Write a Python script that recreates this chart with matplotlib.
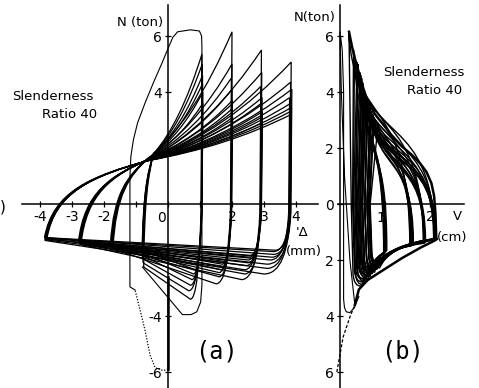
import matplotlib.pyplot as plt
from matplotlib.path import Path
from matplotlib.patches import PathPatch

plt.rcParams['font.family'] = ['DejaVu Sans']

# ---------------- (a) axial force N (ton) vs axial deformation (mm) ----------------
# one entry per cycle, in four amplitude groups (about 1, 2, 3 and 4 mm)
a_group = [0] * 6 + [1] * 7 + [2] * 8 + [3] * 8
a_dmax = [1.06, 1.07, 1.08, 1.08, 1.09, 1.09,
          2.00, 2.00, 1.98, 2.00, 2.01, 2.00, 2.02,
          2.92, 2.93, 2.90, 2.94, 2.92, 2.95, 2.93, 2.94,
          3.85, 3.83, 3.87, 3.80, 3.84, 3.86, 3.82, 3.85]
a_dmin = [-0.76, -0.78, -0.80, -0.79, -0.81, -0.80,
          -1.72, -1.75, -1.78, -1.74, -1.76, -1.80, -1.77,
          -2.72, -2.75, -2.78, -2.74, -2.76, -2.80, -2.77, -2.73,
          -3.85, -3.82, -3.80, -3.83, -3.78, -3.86, -3.81, -3.84]
a_npeak = [5.35, 5.0, 4.6, 4.3, 4.0, 3.6,
           6.15, 5.0, 4.5, 4.1, 3.7, 3.4, 3.1,
           5.5, 4.7, 4.2, 3.8, 3.6, 3.3, 3.1, 2.9,
           5.07, 4.35, 4.1, 3.8, 3.6, 3.45, 3.3, 3.2]
a_ncomp = [-3.4, -3.1, -2.9, -2.7, -2.5, -2.35,
           -2.85, -2.6, -2.45, -2.35, -2.25, -2.15, -2.05,
           -2.7, -2.5, -2.35, -2.2, -2.1, -2.0, -1.9, -1.85,
           -2.5, -2.3, -2.15, -2.0, -1.9, -1.8, -1.7, -1.65]
a_dcomp = [0.7, 0.65, 0.7, 0.75, 0.8, 0.85,
           1.5, 1.6, 1.6, 1.65, 1.7, 1.7, 1.75,
           2.3, 2.4, 2.4, 2.45, 2.5, 2.5, 2.55, 2.55,
           3.0, 3.1, 3.1, 3.2, 3.25, 3.3, 3.3, 3.35]
a_nleft = [-2.25, -2.1, -1.95, -1.85, -1.75, -1.65,
           -1.6, -1.55, -1.55, -1.5, -1.5, -1.45, -1.45,
           -1.45, -1.42, -1.4, -1.4, -1.38, -1.36, -1.35, -1.33,
           -1.3, -1.28, -1.25, -1.25, -1.22, -1.2, -1.22, -1.2]
# point where the reloading branches of each group pinch together
pinch_x = [-0.45, -0.6, -0.6, -0.62]
pinch_y = [1.8, 1.65, 1.6, 1.55]

# first cycle: initial compression, buckling (dotted), then tension yield
a0_load_x = [0.0, 0.0]
a0_load_y = [-2.6, -5.9]
a0_dot_x = [0.0, -0.15, -0.4, -0.56, -0.72, -0.87, -1.03]
a0_dot_y = [-5.9, -5.95, -5.85, -5.4, -4.5, -3.8, -3.07]
a0_x = [-1.03, -1.19, -1.19, -1.16, -1.08, -0.95, -0.72, -0.45, -0.2, 0.0, 0.15, 0.3,
        0.7, 0.98, 1.05, 1.06, 1.06, 1.02, 0.9, 0.72, 0.45, -0.8]
a0_y = [-3.07, -2.96, 1.0, 1.7, 2.3, 2.9, 3.6, 4.35, 5.0, 5.55, 5.95, 6.15,
        6.22, 6.18, 6.0, 5.6, -2.9, -3.5, -3.85, -3.95, -3.95, -2.25]

# ---------------- (b) axial force N (ton) vs lateral deflection v (cm) ----------------
b_vtop = [0.32, 0.40, 0.46, 0.51, 0.55, 0.62,
          0.20, 0.40, 0.48, 0.54, 0.60, 0.67, 0.76,
          0.30, 0.44, 0.52, 0.58, 0.62, 0.70, 0.76, 0.85,
          0.38, 0.50, 0.54, 0.58, 0.62, 0.66, 0.70, 0.73]
b_vdown = [0.30, 0.35, 0.40, 0.45, 0.50, 0.55,
           0.25, 0.33, 0.42, 0.48, 0.55, 0.60, 0.66,
           0.28, 0.36, 0.44, 0.50, 0.55, 0.60, 0.64, 0.67,
           0.30, 0.38, 0.45, 0.50, 0.55, 0.60, 0.63, 0.66]
b_ncomp = [-2.9, -2.8, -2.7, -2.6, -2.5, -2.45,
           -2.95, -2.7, -2.6, -2.5, -2.4, -2.35, -2.3,
           -2.8, -2.6, -2.5, -2.4, -2.35, -2.3, -2.25, -2.2,
           -2.7, -2.55, -2.45, -2.4, -2.3, -2.25, -2.2, -2.2]
b_vright = [0.98, 1.00, 0.97, 1.02, 1.00, 1.04,
            1.55, 1.58, 1.60, 1.57, 1.62, 1.60, 1.63,
            1.85, 1.87, 1.88, 1.86, 1.90, 1.88, 1.89, 1.87,
            2.10, 2.12, 2.08, 2.13, 2.10, 2.14, 2.11, 2.12]
b_nright = [-1.8, -1.75, -1.75, -1.7, -1.7, -1.65,
            -1.5, -1.5, -1.47, -1.45, -1.45, -1.42, -1.4,
            -1.4, -1.4, -1.38, -1.36, -1.36, -1.35, -1.34, -1.33,
            -1.3, -1.28, -1.27, -1.26, -1.25, -1.25, -1.24, -1.24]

# outer boundaries of the loops, initial buckling path (dashed) and first cycle
b_up_v = [0.2, 0.27, 0.33, 0.4, 0.5, 0.62, 0.78, 0.93, 1.15, 1.38, 1.6, 1.78, 1.92,
          2.03, 2.09, 2.12, 2.14]
b_up_n = [6.15, 5.6, 5.2, 4.8, 4.2, 3.65, 3.2, 2.9, 2.45, 2.05, 1.75, 1.45, 1.15,
          0.75, 0.3, -0.3, -1.25]
b_lo_v = [0.33, 0.42, 0.62, 0.96, 1.38, 1.8, 2.11, 2.15]
b_lo_n = [-3.6, -3.05, -2.71, -2.36, -1.93, -1.55, -1.3, -1.25]
b_dash_v = [-0.07, 0.07, 0.22, 0.33]
b_dash_n = [-6.0, -4.75, -4.04, -3.6]
b0_v = [0.33, 0.22, 0.1, 0.03, 0.0, 0.05, 0.08, 0.08, 0.1, 0.14, 0.22, 0.32, 0.42]
b0_n = [-3.6, -2.0, 1.0, 4.0, 6.15, 5.5, 4.0, -3.4, -3.7, -3.85, -3.88, -3.7, -3.3]

M, L, C3, C4 = Path.MOVETO, Path.LINETO, Path.CURVE3, Path.CURVE4


def loop_a(i):
    g = a_group[i]
    px, py = pinch_x[g], pinch_y[g]
    dmin, dmax, npk = a_dmin[i], a_dmax[i], a_npeak[i]
    nc, dc, nl = a_ncomp[i], a_dcomp[i], a_nleft[i]
    w = px - dmin
    verts = [(dmin, nl),
             (dmin + 0.08 * w, nl + 0.6 * (py - nl)),
             (dmin + 0.45 * w, py - 0.2 * (py - nl)), (px, py),
             (px + 0.55 * (dmax - px), py + 0.3 * (npk - py)), (dmax, npk),
             (dmax - 0.03, -0.3),
             (dmax - 0.1, nc), (dc, nc),
             (dmin, nl)]
    codes = [M, C4, C4, C4, C3, C3, L, C3, C3, L]
    return Path(verts, codes)


def loop_b(i):
    vt, nt = b_vtop[i], a_npeak[i]
    vd, nc = b_vdown[i], b_ncomp[i]
    vr, nr = b_vright[i], b_nright[i]
    vc = vd + 0.22
    verts = [(vt, nt), (vd, 0.0),
             (vd + 0.04, nc + 0.45),
             (vd + 0.06, nc), (vc, nc + 0.02),
             (vc + 0.3 * (vr - vc), nr - 0.15), (vr, nr),
             (vr, nr + 0.72 * (nt - nr)),
             (vt + 0.06 * (vr - vt), nt - 0.45 * (nt - nr)), (vt, nt)]
    codes = [M, L, L, C3, C3, C3, C3, C4, C4, C4]
    return Path(verts, codes)


fig = plt.figure(figsize=(4.79, 3.88), dpi=100)
ylo, yhi = (204 - 388) / 28, 204 / 28

axa = fig.add_axes([0, 0, 320 / 479, 1])
axa.set_xlim(-5.25, 4.75)
axa.set_ylim(ylo, yhi)
axb = fig.add_axes([325 / 479, 0, 154 / 479, 1])
axb.set_xlim(-15 / 45, 139 / 45)
axb.set_ylim(ylo, yhi)

for ax in (axa, axb):
    ax.patch.set_alpha(0)
    ax.spines[['top', 'right']].set_visible(False)
    ax.spines['left'].set_position(('data', 0))
    ax.spines['bottom'].set_position(('data', 0))
    ax.spines['left'].set_bounds(-6.6, 7.1)
    ax.spines[['left', 'bottom']].set_linewidth(1.1)
    ax.tick_params(direction='inout', length=5, width=0.9, labelsize=10, pad=2)

axa.spines['bottom'].set_bounds(-4.55, 4.7)
axa.set_xticks([-4, -3, -2, -1, 0, 1, 2, 3, 4],
               ['-4', '-3', '-2', '', '', '', '2', '3', '4'])
axa.set_yticks([-6, -4, -2, 2, 4, 6], ['-6', '-4', '', '', '4', '6'])
axa.text(-0.2, -0.5, '0', fontsize=10, ha='center', va='center')

axb.spines['bottom'].set_bounds(-0.05, 2.75)
axb.set_xticks([1, 2], ['', '2'])
axb.set_yticks([-6, -4, -2, 0, 2, 4, 6], ['6', '4', '2', '0', '2', '4', '6'])

# panel (a) loops
for i in range(len(a_group)):
    axa.add_patch(PathPatch(loop_a(i), fill=False, lw=0.9, ec='black'))
axa.plot(a0_load_x, a0_load_y, color='black', lw=1.8)
axa.plot(a0_dot_x, a0_dot_y, color='black', lw=0.9, ls=(0, (1, 1.3)))
axa.plot(a0_x, a0_y, color='black', lw=0.8)

# panel (b) loops
for i in range(len(a_group)):
    axb.add_patch(PathPatch(loop_b(i), fill=False, lw=1.0, ec='black'))
axb.plot(b_up_v, b_up_n, color='black', lw=1.8)
axb.plot(b_lo_v, b_lo_n, color='black', lw=1.8)
axb.plot(b_dash_v, b_dash_n, color='black', lw=0.9, ls=(0, (2.5, 1.5)))
axb.plot(b0_v, b0_n, color='black', lw=0.8)
# the "1" label sits just left of the tick, between the loop lines
axb.text(0.9, -0.5, '1', fontsize=10, ha='center', va='center', zorder=5)

# labels
axa.text(-0.875, 6.5, 'N (ton)', fontsize=9.5, ha='center', va='center')
fig.text(315 / 479, 1 - 18 / 388, 'N(ton)', fontsize=9.5, ha='center', va='center')
fig.text(12 / 479, 1 - 97 / 388, 'Slenderness', fontsize=9.5, ha='left', va='center')
fig.text(97 / 479, 1 - 114 / 388, 'Ratio 40', fontsize=9.5, ha='right', va='center')
fig.text(464 / 479, 1 - 73 / 388, 'Slenderness', fontsize=9.5, ha='right', va='center')
fig.text(462 / 479, 1 - 90 / 388, 'Ratio 40', fontsize=9.5, ha='right', va='center')
fig.text(302 / 479, 1 - 232 / 388, "'Δ", fontsize=9.5, ha='center', va='center')
fig.text(304 / 479, 1 - 252 / 388, '(mm)', fontsize=9.5, ha='center', va='center')
fig.text(457 / 479, 1 - 216 / 388, 'V', fontsize=9.5, ha='center', va='center')
fig.text(452 / 479, 1 - 237 / 388, '(cm)', fontsize=9.5, ha='center', va='center')
fig.text(217 / 479, 1 - 352 / 388, '(a)', fontsize=17, family='DejaVu Sans Mono',
         ha='center', va='center')
fig.text(403 / 479, 1 - 352 / 388, '(b)', fontsize=17, family='DejaVu Sans Mono',
         ha='center', va='center')
fig.text(0, 1 - 207 / 388, ')', fontsize=11, ha='left', va='center')

fig.savefig('out.png', dpi=100)
